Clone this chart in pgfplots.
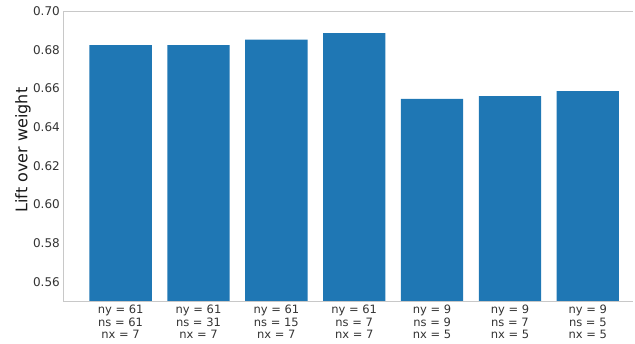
\documentclass[border=0pt]{standalone}
\usepackage{pgfplots}
\pgfplotsset{compat=1.18}
\usepackage{fontspec}
\setmainfont{DejaVu Sans}
\definecolor{barblue}{HTML}{1F77B4}
\definecolor{spine}{HTML}{C8C8C8}
\begin{document}
\begin{tikzpicture}
\begin{axis}[
  name=main,
  scale only axis,
  width=570pt, height=290pt,
  xmin=-0.74, xmax=6.58,
  ymin=0.55, ymax=0.70,
  ytick={0.56,0.58,0.60,0.62,0.64,0.66,0.68,0.70},
  xtick={0,1,2,3,4,5,6},
  xticklabels={{ny = 61\\ns = 61\\nx = 7},{ny = 61\\ns = 31\\nx = 7},{ny = 61\\ns = 15\\nx = 7},{ny = 61\\ns = 7\\nx = 7},{ny = 9\\ns = 9\\nx = 5},{ny = 9\\ns = 7\\nx = 5},{ny = 9\\ns = 5\\nx = 5}},
  xticklabel style={align=center, font=\fontsize{11.5}{12.3}\selectfont, text=black!80, inner sep=0pt},
  yticklabel style={font=\fontsize{12}{13}\selectfont, text=black!80, inner sep=0pt, /pgf/number format/fixed, /pgf/number format/fixed zerofill, /pgf/number format/precision=2},
  /pgf/number format/assume math mode=true,
  major tick length=0pt,
  axis line style={spine},
  axis x line*=bottom,
  axis y line*=left,
  xticklabel shift=4pt,
  yticklabel shift=3pt,
  clip=false,
]
\addplot[ybar, bar width=0.8, fill=barblue, draw=none, bar shift=0pt] coordinates {
 (0,0.6824) (1,0.6824) (2,0.6852) (3,0.6886) (4,0.6545) (5,0.6560) (6,0.6586)
};
\draw[spine] (rel axis cs:0,1) -- (rel axis cs:1,1);
\end{axis}
\node[rotate=90, font=\fontsize{16}{18}\selectfont, text=black!90] at ([xshift=-40pt,yshift=6pt]main.west) {Lift over weight};
\useasboundingbox ([xshift=-63pt,yshift=-43pt]main.south west) rectangle ([xshift=2pt,yshift=11pt]main.north east);
\end{tikzpicture}
\end{document}
